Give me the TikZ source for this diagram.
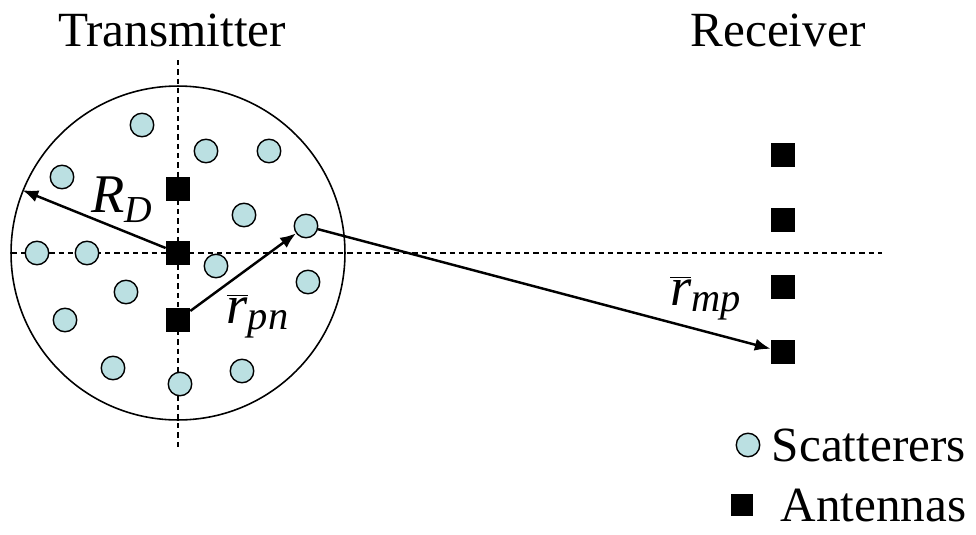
\documentclass[tikz,border=0pt]{standalone}
\usepackage{fontspec}
\setmainfont{Liberation Serif}
\usetikzlibrary{arrows.meta,positioning}
\definecolor{scatblue}{HTML}{BBE0E2}

\begin{document}
\begin{tikzpicture}[x=0.02cm, y=-0.02cm, font=\fontsize{28}{32}\selectfont, >={Latex[length=9pt,width=7pt]},
  scat/.style={circle, draw, line width=0.8pt, fill=scatblue, inner sep=0pt, minimum size=0.47cm},
  ant/.style={rectangle, fill=black, inner sep=0pt, minimum size=0.48cm},
  axis/.style={line width=0.9pt, dash pattern=on 3pt off 2.3pt},
  vec/.style={->, line width=1.4pt},
  vlabel/.style={font=\fontsize{31}{34}\selectfont}]
  \useasboundingbox (0,0) rectangle (976,534);
  % titles
  \node (txtitle) at (172,30) {Transmitter};
  \node (rxtitle) at (778,30) {Receiver};
  % scattering disk and axes
  \node[circle, draw, line width=0.9pt, inner sep=0pt, minimum size=6.68cm] (disk) at (178,253) {};
  \coordinate (vtop) at (178,60);
  \coordinate (vbot) at (178,448);
  \coordinate (hleft) at (12,253);
  \coordinate (hright) at (882,253);
  \draw[axis] (vtop) -- (vbot);
  \draw[axis] (hleft) -- (hright);
  % scatterers
  \node[scat] (s1) at (142,125) {};
  \node[scat] (s2) at (206,151) {};
  \node[scat] (s3) at (269,151) {};
  \node[scat] (s4) at (62,177) {};
  \node[scat] (s5) at (244,215) {};
  \node[scat] (s6) at (306,226) {};
  \node[scat] (s7) at (37,253) {};
  \node[scat] (s8) at (87,253) {};
  \node[scat] (s9) at (216,266) {};
  \node[scat] (s10) at (308,282) {};
  \node[scat] (s11) at (126,292) {};
  \node[scat] (s12) at (65,320) {};
  \node[scat] (s13) at (113,368) {};
  \node[scat] (s14) at (242,371) {};
  \node[scat] (s15) at (180,384) {};
  % transmit antennas
  \node[ant] (tx1) at (178,189) {};
  \node[ant] (tx2) at (178,253) {};
  \node[ant] (tx3) at (178,320) {};
  % receive antennas
  \node[ant] (rx1) at (783,155) {};
  \node[ant, below=0.8cm of rx1] (rx2) {};
  \node[ant, below=0.86cm of rx2] (rx3) {};
  \node[ant, below=0.8cm of rx3] (rx4) {};
  % vectors
  \coordinate (rim) at (disk.158);
  \draw[vec] (tx2) -- (rim);
  \draw[vec] (tx3) -- (s6);
  \draw[vec] (s6) -- (rx4);
  \node[vlabel] (rd) at (122,200) {\itshape R\textsubscript{D}};
  \node[vlabel] (rpn) at (258,316) {$\overline{\mbox{\itshape r}}_{\mbox{\fontsize{23}{25}\selectfont\itshape pn}}$};
  \node[vlabel] (rmp) at (706,298) {$\overline{\mbox{\itshape r}}_{\mbox{\fontsize{23}{25}\selectfont\itshape mp}}$};
  % legend
  \node[scat] (legscat) at (748,445) {};
  \node[inner sep=0pt, right=0.22cm of legscat] (legscattxt) {Scatterers};
  \node[ant, minimum size=0.44cm] (legant) at (742,505) {};
  \node[inner sep=0pt, right=0.54cm of legant] (leganttxt) {Antennas};
\end{tikzpicture}
\end{document}
